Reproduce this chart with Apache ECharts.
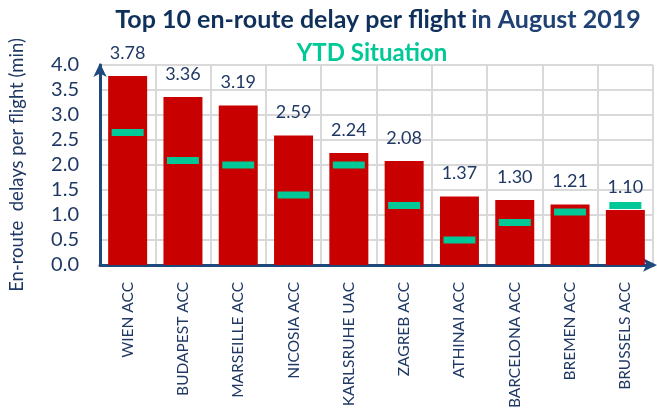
<!DOCTYPE html>
<html>
<head>
<meta charset="utf-8">
<script src="https://cdn.jsdelivr.net/npm/echarts@6/dist/echarts.min.js"></script>
<style>html,body{margin:0;padding:0;background:#fff}#c{width:657px;height:413px}</style>
</head>
<body>
<div id="c"></div>
<script>
const categories = ['WIEN ACC','BUDAPEST ACC','MARSEILLE ACC','NICOSIA ACC','KARLSRUHE UAC','ZAGREB ACC','ATHINAI ACC','BARCELONA ACC','BREMEN ACC','BRUSSELS ACC'];
const augustDelay = [3.78, 3.36, 3.19, 2.59, 2.24, 2.08, 1.37, 1.30, 1.21, 1.10];
const ytdDelay = [2.65, 2.09, 2.00, 1.40, 2.00, 1.19, 0.50, 0.85, 1.06, 1.19];
const yTicks = { min: 0, max: 4, interval: 0.5 };

const navy = '#1F3864';
const font = 'Lato, Carlito, Calibri, sans-serif';
const chart = echarts.init(document.getElementById('c'), null, { renderer: 'canvas' });
chart.setOption({
  animation: false,
  backgroundColor: '#ffffff',
  title: [
    {
      text: '{a|Top 10 en-route delay per flight} {b|in August 2019}',
      left: 373, top: 2, textAlign: 'center',
      textStyle: {
        rich: {
          a: { fontFamily: font, fontWeight: 'bold', fontSize: 25, color: '#10305C' },
          b: { fontFamily: font, fontWeight: 'bold', fontSize: 25, color: '#1F4174' }
        }
      }
    },
    {
      text: 'YTD Situation',
      left: 367, top: 36, textAlign: 'center',
      textStyle: { fontFamily: font, fontWeight: 'bold', fontSize: 24, color: '#00C896' }
    }
  ],
  grid: { left: 93, right: 4, top: 65, bottom: 148, containLabel: false },
  xAxis: {
    type: 'category',
    data: categories,
    axisLine: { show: true, symbol: ['none', 'arrow'], symbolSize: [10, 14], symbolOffset: [0, 4], lineStyle: { color: '#1F497D', width: 3 } },
    axisTick: { show: false },
    splitLine: { show: true, interval: 0, lineStyle: { color: '#D9D9D9', width: 2 } },
    axisLabel: { rotate: 90, interval: 0, margin: 17, fontFamily: font, fontSize: 15.5, color: navy }
  },
  yAxis: {
    type: 'value',
    min: yTicks.min, max: yTicks.max, interval: yTicks.interval,
    name: 'En-route  delays per flight (min)',
    nameLocation: 'middle', nameGap: 73, nameRotate: 90,
    nameTextStyle: { fontFamily: font, fontSize: 18.5, color: navy },
    axisLine: { show: true, symbol: ['none', 'arrow'], symbolSize: [10, 14], symbolOffset: [0, 2], lineStyle: { color: '#1F497D', width: 3 } },
    axisTick: { show: false },
    splitLine: { show: true, lineStyle: { color: '#D9D9D9', width: 2 } },
    axisLabel: { margin: 21, fontFamily: font, fontSize: 20, color: navy, formatter: v => v.toFixed(1) }
  },
  series: [
    {
      type: 'bar',
      data: augustDelay,
      barWidth: 39,
      itemStyle: { color: '#C80000' },
      label: { show: true, position: 'top', distance: 14, fontFamily: font, fontSize: 18, color: navy, formatter: p => p.value.toFixed(2) },
      z: 2
    },
    {
      type: 'scatter',
      data: ytdDelay,
      symbol: 'rect',
      symbolSize: [32, 7],
      itemStyle: { color: '#00C896', opacity: 1 },
      z: 3
    }
  ]
});
</script>
</body>
</html>
